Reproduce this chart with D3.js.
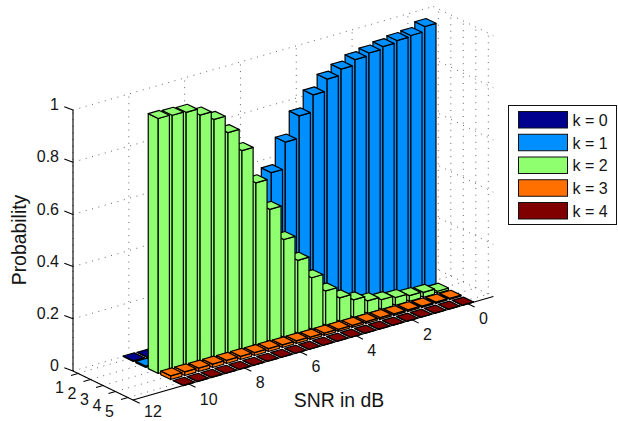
<!DOCTYPE html>
<html><head><meta charset="utf-8">
<script src="https://cdnjs.cloudflare.com/ajax/libs/d3/7.8.5/d3.min.js"></script>
<style>html,body{margin:0;padding:0;background:#fff}svg{display:block}text{font-family:"Liberation Sans",Arial,sans-serif;fill:#141414}</style>
</head><body><svg id="c" width="618" height="421"></svg>
<script>
const snr=[0,0.5,1,1.5,2,2.5,3,3.5,4,4.5,5,5.5,6,6.5,7,7.5,8,8.5,9,9.5,10];
const k0=[0,0,0,0,0,0,0,0,0,0,0,0,0,0,0,0,0,0,0.001,0.001,0.002];
const k1=[0.999,0.98,0.976,0.968,0.959,0.949,0.928,0.905,0.86,0.795,0.71,0.608,0.48,0.365,0.235,0.15,0.085,0.05,0.025,0.012,0.005];
const k2=[0.008,0.019,0.022,0.03,0.037,0.048,0.067,0.09,0.132,0.198,0.28,0.375,0.506,0.623,0.762,0.846,0.912,0.944,0.97,0.974,0.977];
const k3=[0.004,0.005,0.005,0.006,0.006,0.007,0.007,0.008,0.008,0.009,0.009,0.01,0.01,0.011,0.011,0.012,0.012,0.013,0.013,0.014,0.014];
const k4=[0.001,0.001,0.001,0.001,0.001,0.001,0.001,0.001,0.001,0.001,0.001,0.001,0.001,0.001,0.001,0.001,0.001,0.001,0.001,0.001,0.001];
const seriesValues=[k0,k1,k2,k3,k4];
const legendLabels=["k = 0","k = 1","k = 2","k = 3","k = 4"];
const colors=["#00008F","#008FFF","#8FFF70","#FF7000","#800000"];
const zTicks=[0,0.2,0.4,0.6,0.8,1];
const zTickLabels=["0","0.2","0.4","0.6","0.8","1"];
const kTicks=[1,2,3,4,5];
const xTicks=[0,2,4,6,8,10,12];

const svg=d3.select("#c");
const xU=d3.scaleLinear().domain([12,-0.91]).range([0,1]);
const kU=d3.scaleLinear().domain([0.6,5.4]).range([0,1]);
const zY=d3.scaleLinear().domain([0,1]).range([371,110]);
const X0=73, XX=360.3, XY=-103.5, KX=60, KY=29;
const P=(x,k,z)=>[X0+xU(x)*XX+kU(k)*KX, zY(z)+xU(x)*XY+kU(k)*KY];
const line=d3.line();
const poly=d3.line().curve(d3.curveLinearClosed);
const xMin=xU.domain()[1], xMax=xU.domain()[0], kMin=kU.domain()[0], kMax=kU.domain()[1];

// grid
const grid=svg.append("g").attr("fill","none").attr("stroke","#555").attr("stroke-width",0.9).attr("stroke-dasharray","1 5.6");
const gl=(a,b)=>grid.append("path").attr("d",line([a,b]));
zTicks.forEach(z=>{gl(P(xMax,kMin,z),P(xMin,kMin,z));gl(P(xMin,kMin,z),P(xMin,kMax,z));});
xTicks.forEach(x=>{gl(P(x,kMin,0),P(x,kMin,1));gl(P(x,kMin,0),P(x,kMax,0));});
kTicks.forEach(k=>{gl(P(xMin,k,0),P(xMin,k,1));gl(P(xMax,k,0),P(xMin,k,0));});

// axes
const axes=svg.append("g").attr("fill","none").attr("stroke","#000").attr("stroke-width",1.1);
const al=(a,b)=>axes.append("path").attr("d",line([a,b]));
al(P(xMax,kMin,0),P(xMax,kMin,1));
al(P(xMax,kMin,0),P(xMax,kMax,0));
al(P(xMax,kMax,0),P(xMin,kMax,0));
const lab=svg.append("g").attr("font-size",16);
zTicks.forEach((z,i)=>{const p=P(xMax,kMin,z);
  al(p,[p[0]-8.7,p[1]-3.3]);
  lab.append("text").attr("x",p[0]-14).attr("y",p[1]-5.5).attr("dy","0.36em").attr("text-anchor","end").text(zTickLabels[i]);});
kTicks.forEach(k=>{const p=P(xMax,k,0);
  al(p,[p[0]-7,p[1]+2]);
  lab.append("text").attr("x",p[0]-18.5).attr("y",p[1]+14).attr("dy","0.36em").attr("text-anchor","middle").text(k);});
xTicks.forEach(x=>{const p=P(x,kMax,0);
  al(p,[p[0]+6.7,p[1]+3.3]);
  lab.append("text").attr("x",p[0]+11).attr("y",Math.min(p[1]+14.8,411.5)).attr("dy","0.36em").attr("text-anchor","start").text(x);});

// bars, far to near
const bw=0.2, bd=0.4;
seriesValues.forEach((vals,ki)=>{
  const k=ki+1;
  const g=svg.append("g").attr("fill",colors[ki]).attr("stroke","#000").attr("stroke-width",1.2).attr("stroke-linejoin","round");
  snr.forEach((x,i)=>{
    const z=vals[i];
    const x0=x-bw,x1=x+bw,k0_=k-bd,k1_=k+bd;
    g.append("path").attr("d",poly([P(x1,k0_,0),P(x1,k1_,0),P(x1,k1_,z),P(x1,k0_,z)]));
    g.append("path").attr("d",poly([P(x1,k1_,0),P(x0,k1_,0),P(x0,k1_,z),P(x1,k1_,z)]));
    g.append("path").attr("d",poly([P(x1,k0_,z),P(x1,k1_,z),P(x0,k1_,z),P(x0,k0_,z)]));
  });
});

svg.append("text").attr("x",339).attr("y",406.5).attr("text-anchor","middle").attr("font-size",19.4).text("SNR in dB");
svg.append("text").attr("transform","translate(25.5,240) rotate(-90)").attr("text-anchor","middle").attr("font-size",19.4).text("Probability");

// legend
const lg=svg.append("g");
lg.append("rect").attr("x",508.5).attr("y",105.5).attr("width",108).attr("height",119).attr("fill","#fff").attr("stroke","#111").attr("stroke-width",1);
const ly=d3.scalePoint().domain(legendLabels).range([111.5,202.5]);
legendLabels.forEach((t,i)=>{
  lg.append("rect").attr("x",518.5).attr("y",ly(t)).attr("width",49).attr("height",16.5).attr("fill",colors[i]).attr("stroke","#111").attr("stroke-width",1);
  lg.append("text").attr("x",572.5).attr("y",ly(t)+8.5).attr("dy","0.36em").attr("font-size",16).text(t);
});
</script></body></html>
